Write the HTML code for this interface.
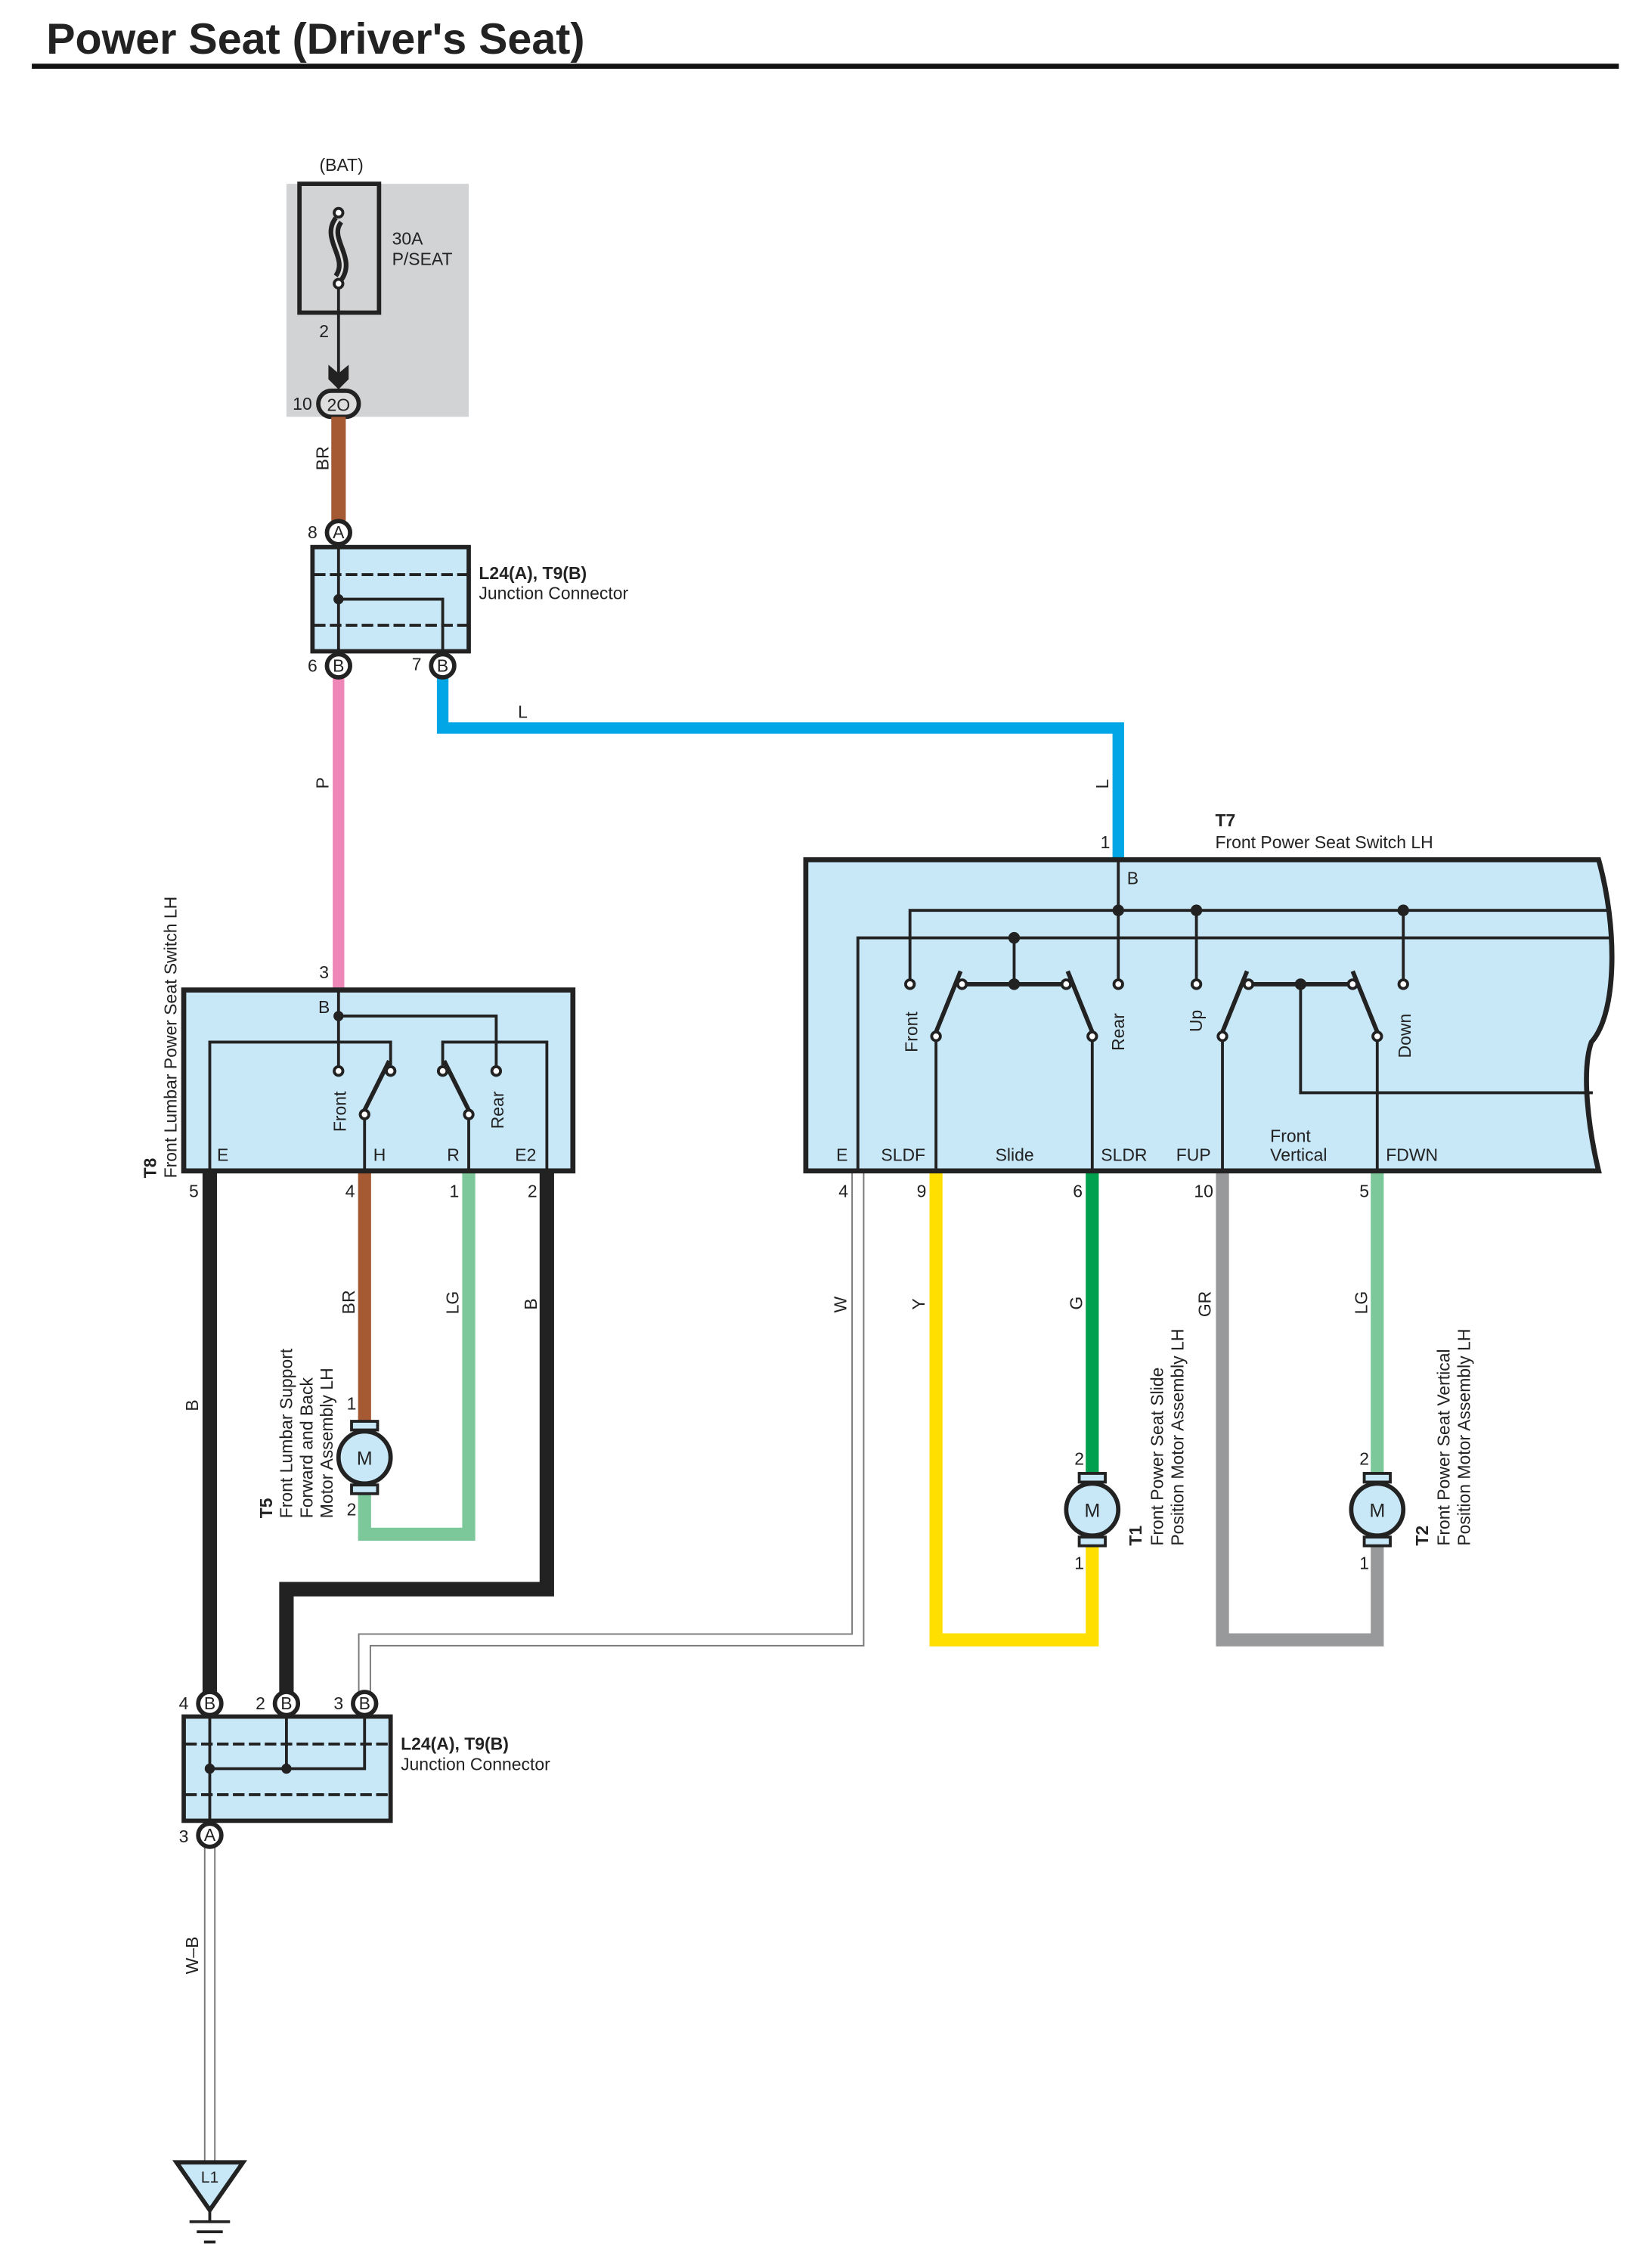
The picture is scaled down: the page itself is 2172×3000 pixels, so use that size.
<!DOCTYPE html>
<html><head><meta charset="utf-8"><style>
html,body{margin:0;padding:0;background:#fff}
svg{display:block}
text{font-family:"Liberation Sans",sans-serif;fill:#222}
</style></head><body>
<svg width="2172" height="3000" viewBox="0 0 1135 1567" preserveAspectRatio="none" xmlns="http://www.w3.org/2000/svg">
<defs>
<g id="mot">
<rect x="-9" y="-25" width="18" height="6" fill="#c8e8f8" stroke="#222" stroke-width="2"/>
<rect x="-9" y="19" width="18" height="6" fill="#c8e8f8" stroke="#222" stroke-width="2"/>
<circle r="18" fill="#c8e8f8" stroke="#222" stroke-width="3"/>
<text y="5" text-anchor="middle" font-size="13">M</text>
</g>
</defs>
<!-- title -->
<text x="32" y="37" font-size="30" font-weight="bold" fill="#111">Power Seat (Driver's Seat)</text>
<rect x="22" y="44" width="1097" height="3.5" fill="#111"/>

<!-- fuse area -->
<rect x="198" y="127" width="126" height="161" fill="#d2d3d5"/>
<rect x="207" y="127" width="55" height="89" fill="none" stroke="#222" stroke-width="3"/>
<text x="236" y="118" font-size="12" text-anchor="middle">(BAT)</text>
<text x="271" y="169" font-size="12">30A</text>
<text x="271" y="183" font-size="12">P/SEAT</text>
<path d="M234 152 C224 165,244 178,234 192" fill="none" stroke="#222" stroke-width="8"/>
<path d="M234 152 C224 165,244 178,234 192" fill="none" stroke="#ddd" stroke-width="1.5"/>
<circle cx="234" cy="147" r="3" fill="#fff" stroke="#222" stroke-width="2"/>
<circle cx="234" cy="196" r="3" fill="#fff" stroke="#222" stroke-width="2"/>
<line x1="234" y1="199" x2="234" y2="262" stroke="#222" stroke-width="2"/>
<text x="224" y="233" font-size="12" text-anchor="middle">2</text>
<path d="M227 252 L234 258 L241 252 L241 262 L234 269 L227 262 Z" fill="#222"/>
<rect x="220" y="270" width="28" height="18" rx="9" fill="#ddd" stroke="#222" stroke-width="3"/>
<text x="234" y="284" font-size="12" text-anchor="middle">2O</text>
<text x="209" y="283" font-size="12" text-anchor="middle">10</text>

<!-- wires -->
<g fill="none" stroke-linejoin="miter" stroke-linecap="butt">
<line x1="234" y1="288" x2="234" y2="362" stroke="#a65a34" stroke-width="10"/>
<line x1="234" y1="467" x2="234" y2="684" stroke="#ee86b8" stroke-width="8"/>
<polyline points="306,467 306,503 773,503 773,594" stroke="#00a6e6" stroke-width="8"/>
<line x1="145" y1="809" x2="145" y2="1170" stroke="#222" stroke-width="10"/>
<line x1="252" y1="809" x2="252" y2="985" stroke="#a65a34" stroke-width="9"/>
<polyline points="324,809 324,1060 252,1060 252,1030" stroke="#7dc89a" stroke-width="9"/>
<polyline points="378,809 378,1098 198,1098 198,1170" stroke="#222" stroke-width="10"/>
<polyline points="593,809 593,1133 252,1133 252,1170" stroke="#777" stroke-width="9"/>
<polyline points="593,809 593,1133 252,1133 252,1170" stroke="#fff" stroke-width="7"/>
<polyline points="647,809 647,1133 755,1133 755,1067" stroke="#ffdf00" stroke-width="9"/>
<line x1="755" y1="809" x2="755" y2="1020" stroke="#00a04e" stroke-width="9"/>
<polyline points="845,809 845,1133 952,1133 952,1067" stroke="#98999b" stroke-width="9"/>
<line x1="952" y1="809" x2="952" y2="1020" stroke="#7dc89a" stroke-width="9"/>
<line x1="145" y1="1276" x2="145" y2="1495" stroke="#777" stroke-width="8"/>
<line x1="145" y1="1276" x2="145" y2="1495" stroke="#fff" stroke-width="6"/>
</g>
<!-- wire labels -->
<g font-size="12">
<text transform="translate(227,325) rotate(-90)">BR</text>
<text transform="translate(227,545) rotate(-90)">P</text>
<text x="358" y="496">L</text>
<text transform="translate(766,545) rotate(-90)">L</text>
<text transform="translate(137,975) rotate(-90)">B</text>
<text transform="translate(245,908) rotate(-90)">BR</text>
<text transform="translate(317,908) rotate(-90)">LG</text>
<text transform="translate(371,905) rotate(-90)">B</text>
<text transform="translate(585,907) rotate(-90)">W</text>
<text transform="translate(639,905) rotate(-90)">Y</text>
<text transform="translate(748,905) rotate(-90)">G</text>
<text transform="translate(837,910) rotate(-90)">GR</text>
<text transform="translate(945,908) rotate(-90)">LG</text>
<text transform="translate(137,1364) rotate(-90)">W–B</text>
</g>

<!-- top junction connector -->
<rect x="216" y="378" width="108" height="72" fill="#c8e8f8" stroke="#222" stroke-width="3"/>
<line x1="217" y1="397" x2="323" y2="397" stroke="#222" stroke-width="2" stroke-dasharray="8,3"/>
<line x1="217" y1="432" x2="323" y2="432" stroke="#222" stroke-width="2" stroke-dasharray="8,3"/>
<line x1="234" y1="368" x2="234" y2="460" stroke="#222" stroke-width="2"/>
<polyline points="234,414 306,414 306,460" fill="none" stroke="#222" stroke-width="2"/>
<circle cx="234" cy="414" r="3.5" fill="#222"/>
<g stroke="#222" stroke-width="3" fill="#fff">
<circle cx="234" cy="368" r="8"/><circle cx="234" cy="460" r="8"/><circle cx="306" cy="460" r="8"/>
</g>
<g font-size="12" text-anchor="middle">
<text x="234" y="372">A</text><text x="234" y="464">B</text><text x="306" y="464">B</text>
<text x="216" y="372">8</text><text x="216" y="464">6</text><text x="288" y="463">7</text>
</g>
<text x="331" y="400" font-size="12" font-weight="bold">L24(A), T9(B)</text>
<text x="331" y="414" font-size="12">Junction Connector</text>

<!-- T8 -->
<rect x="127" y="684" width="269" height="125" fill="#c8e8f8" stroke="#222" stroke-width="3.5"/>
<g fill="none" stroke="#222" stroke-width="2">
<line x1="234" y1="684" x2="234" y2="737"/>
<polyline points="234,702 343,702 343,737"/>
<polyline points="145,809 145,720 270,720 270,736"/>
<polyline points="378,809 378,720 306,720 306,736"/>
<line x1="252" y1="773" x2="252" y2="809"/>
<line x1="324" y1="773" x2="324" y2="809"/>
</g>
<g stroke="#222" stroke-width="3">
<line x1="252" y1="767" x2="269" y2="733"/>
<line x1="324" y1="767" x2="307" y2="733"/>
</g>
<circle cx="234" cy="702" r="3.5" fill="#222"/>
<g fill="#fff" stroke="#222" stroke-width="2">
<circle cx="234" cy="740" r="3"/><circle cx="343" cy="740" r="3"/>
<circle cx="270" cy="740" r="3"/><circle cx="306" cy="740" r="3"/>
<circle cx="252" cy="770" r="3"/><circle cx="324" cy="770" r="3"/>
</g>
<g font-size="12">
<text x="224" y="700" text-anchor="middle">B</text>
<text transform="translate(239,782) rotate(-90)">Front</text>
<text transform="translate(348,780) rotate(-90)">Rear</text>
<text x="150" y="802">E</text><text x="258" y="802">H</text><text x="309" y="802">R</text><text x="356" y="802">E2</text>
<text x="134" y="827" text-anchor="middle">5</text><text x="242" y="827" text-anchor="middle">4</text>
<text x="314" y="827" text-anchor="middle">1</text><text x="368" y="827" text-anchor="middle">2</text>
<text x="224" y="676" text-anchor="middle">3</text>
<text transform="translate(108,814) rotate(-90)" font-weight="bold">T8</text>
<text transform="translate(122,814) rotate(-90)">Front Lumbar Power Seat Switch LH</text>
</g>

<!-- T7 -->
<path d="M557 594 L1105 594 C1118 640,1118 700,1100 720 C1093 740,1098 780,1105 809 L557 809 Z" fill="#c8e8f8" stroke="#222" stroke-width="3.5"/>
<g fill="none" stroke="#222" stroke-width="2">
<line x1="773" y1="594" x2="773" y2="677"/>
<polyline points="629,677 629,629 1112,629"/>
<polyline points="593,809 593,648 1113,648"/>
<line x1="827" y1="629" x2="827" y2="677"/>
<line x1="970" y1="629" x2="970" y2="677"/>
<line x1="701" y1="648" x2="701" y2="680"/>
<line x1="665" y1="680" x2="737" y2="680" stroke-width="3"/>
<line x1="863" y1="680" x2="935" y2="680" stroke-width="3"/>
<polyline points="899,680 899,755 1101,755"/>
<line x1="647" y1="719" x2="647" y2="809"/>
<line x1="755" y1="719" x2="755" y2="809"/>
<line x1="845" y1="719" x2="845" y2="809"/>
<line x1="952" y1="719" x2="952" y2="809"/>
</g>
<g stroke="#222" stroke-width="3">
<line x1="647" y1="713" x2="664" y2="671"/>
<line x1="755" y1="713" x2="738" y2="671"/>
<line x1="845" y1="713" x2="862" y2="671"/>
<line x1="952" y1="713" x2="935" y2="671"/>
</g>
<g fill="#222">
<circle cx="773" cy="629" r="4"/><circle cx="827" cy="629" r="4"/><circle cx="970" cy="629" r="4"/>
<circle cx="701" cy="648" r="4"/><circle cx="701" cy="680" r="4"/><circle cx="899" cy="680" r="4"/>
</g>
<g fill="#fff" stroke="#222" stroke-width="2">
<circle cx="629" cy="680" r="3"/><circle cx="773" cy="680" r="3"/><circle cx="827" cy="680" r="3"/><circle cx="970" cy="680" r="3"/>
<circle cx="665" cy="680" r="3"/><circle cx="737" cy="680" r="3"/><circle cx="863" cy="680" r="3"/><circle cx="935" cy="680" r="3"/>
<circle cx="647" cy="716" r="3"/><circle cx="755" cy="716" r="3"/><circle cx="845" cy="716" r="3"/><circle cx="952" cy="716" r="3"/>
</g>
<g font-size="12">
<text transform="translate(634,727) rotate(-90)">Front</text>
<text transform="translate(777,726) rotate(-90)">Rear</text>
<text transform="translate(831,713) rotate(-90)">Up</text>
<text transform="translate(975,731) rotate(-90)">Down</text>
<text x="779" y="611">B</text>
<text x="578" y="802">E</text><text x="609" y="802">SLDF</text><text x="688" y="802">Slide</text>
<text x="761" y="802">SLDR</text><text x="813" y="802">FUP</text>
<text x="878" y="789">Front</text><text x="878" y="802">Vertical</text><text x="958" y="802">FDWN</text>
<text x="583" y="827" text-anchor="middle">4</text><text x="637" y="827" text-anchor="middle">9</text>
<text x="745" y="827" text-anchor="middle">6</text><text x="832" y="827" text-anchor="middle">10</text>
<text x="943" y="827" text-anchor="middle">5</text>
<text x="764" y="586" text-anchor="middle">1</text>
<text x="840" y="571" font-weight="bold">T7</text>
<text x="840" y="586">Front Power Seat Switch LH</text>
</g>

<!-- motors -->
<use href="#mot" x="252" y="1007"/>
<use href="#mot" x="755" y="1043"/>
<use href="#mot" x="952" y="1043"/>
<g font-size="12" text-anchor="middle">
<text x="243" y="974">1</text><text x="243" y="1047">2</text>
<text x="746" y="1012">2</text><text x="746" y="1084">1</text>
<text x="943" y="1012">2</text><text x="943" y="1084">1</text>
</g>
<g font-size="12">
<text transform="translate(188,1049) rotate(-90)" font-weight="bold">T5</text>
<text transform="translate(202,1049) rotate(-90)">Front Lumbar Support</text>
<text transform="translate(216,1049) rotate(-90)">Forward and Back</text>
<text transform="translate(230,1049) rotate(-90)">Motor Assembly LH</text>
<text transform="translate(789,1068) rotate(-90)" font-weight="bold">T1</text>
<text transform="translate(804,1068) rotate(-90)">Front Power Seat Slide</text>
<text transform="translate(818,1068) rotate(-90)">Position Motor Assembly LH</text>
<text transform="translate(987,1068) rotate(-90)" font-weight="bold">T2</text>
<text transform="translate(1002,1068) rotate(-90)">Front Power Seat Vertical</text>
<text transform="translate(1016,1068) rotate(-90)">Position Motor Assembly LH</text>
</g>

<!-- bottom junction -->
<rect x="127" y="1186" width="143" height="72" fill="#c8e8f8" stroke="#222" stroke-width="3"/>
<line x1="128" y1="1205" x2="269" y2="1205" stroke="#222" stroke-width="2" stroke-dasharray="8,3"/>
<line x1="128" y1="1240" x2="269" y2="1240" stroke="#222" stroke-width="2" stroke-dasharray="8,3"/>
<line x1="145" y1="1177" x2="145" y2="1268" stroke="#222" stroke-width="2"/>
<polyline points="145,1222 252,1222 252,1177" fill="none" stroke="#222" stroke-width="2"/>
<line x1="198" y1="1177" x2="198" y2="1222" stroke="#222" stroke-width="2"/>
<circle cx="145" cy="1222" r="3.5" fill="#222"/><circle cx="198" cy="1222" r="3.5" fill="#222"/>
<g stroke="#222" stroke-width="3" fill="#fff">
<circle cx="145" cy="1177" r="8"/><circle cx="198" cy="1177" r="8"/><circle cx="252" cy="1177" r="8"/><circle cx="145" cy="1268" r="8"/>
</g>
<g font-size="12" text-anchor="middle">
<text x="145" y="1181">B</text><text x="198" y="1181">B</text><text x="252" y="1181">B</text><text x="145" y="1272">A</text>
<text x="127" y="1181">4</text><text x="180" y="1181">2</text><text x="234" y="1181">3</text><text x="127" y="1273">3</text>
</g>
<text x="277" y="1209" font-size="12" font-weight="bold">L24(A), T9(B)</text>
<text x="277" y="1223" font-size="12">Junction Connector</text>

<!-- ground -->
<path d="M122 1494 L168 1494 L145 1527 Z" fill="#c8e8f8" stroke="#222" stroke-width="3"/>
<text x="145" y="1508" font-size="11" text-anchor="middle">L1</text>
<g stroke="#222" stroke-width="2">
<line x1="145" y1="1527" x2="145" y2="1535"/>
<line x1="131" y1="1535" x2="159" y2="1535"/>
<line x1="136" y1="1542" x2="154" y2="1542"/>
<line x1="141" y1="1549" x2="149" y2="1549"/>
</g>
</svg>
</body></html>
